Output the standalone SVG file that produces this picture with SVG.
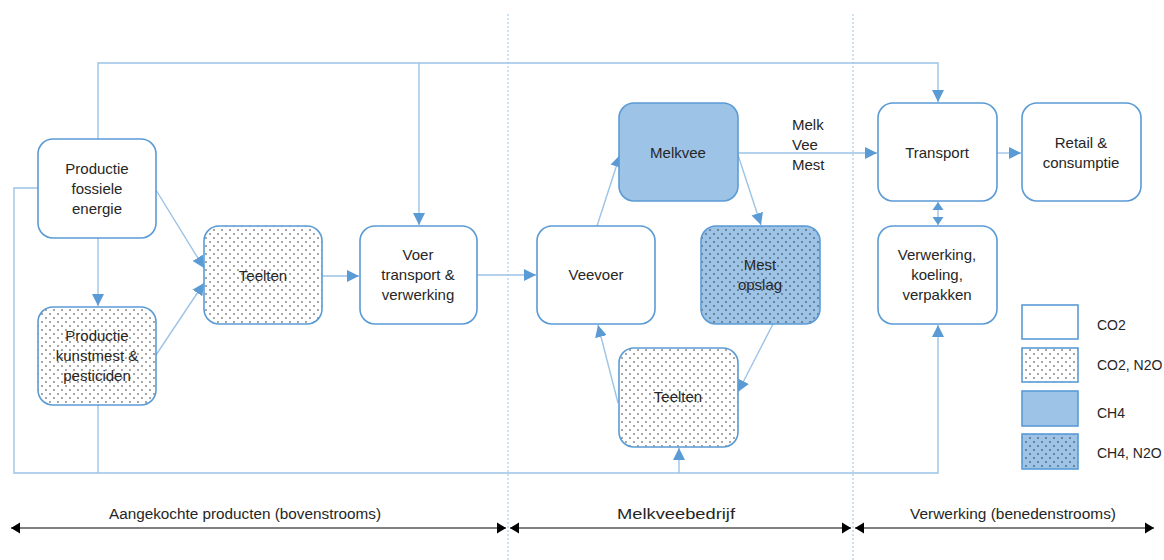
<svg xmlns="http://www.w3.org/2000/svg" width="1164" height="560" viewBox="0 0 1164 560">
<style>
.n{stroke:#5b9bd5;stroke-width:1.6}
.w{fill:#fff}
.b{fill:#9dc3e6}
.t{font-family:"Liberation Sans",Arial,sans-serif;font-size:15px;fill:#262626;text-anchor:middle}
.s{font-size:14px}
.l{text-anchor:start}
.c{fill:none;stroke:#9dc3e6;stroke-width:1.4}
.d{fill:none;stroke:#9dc3e6;stroke-width:1;stroke-dasharray:2 2}
.k{fill:none;stroke:#808080;stroke-width:2}
</style>
<defs>
<pattern id="dots" width="8" height="8" patternUnits="userSpaceOnUse">
<circle cx="2" cy="2" r="0.75" fill="#222"/>
<circle cx="6" cy="6" r="0.75" fill="#222"/>
</pattern>
<marker id="a" markerUnits="userSpaceOnUse" markerWidth="13" markerHeight="13" refX="12" refY="6.5" orient="auto-start-reverse" viewBox="0 0 13 13">
<path d="M0,0.5 L12,6.5 L0,12.5 z" fill="#5b9bd5"/>
</marker>
<marker id="a2" markerUnits="userSpaceOnUse" markerWidth="12" markerHeight="12" refX="8" refY="6" orient="auto-start-reverse" viewBox="0 0 12 12">
<path d="M0,0.5 L8,6 L0,11.5 z" fill="#5b9bd5"/>
</marker>
<marker id="k" markerUnits="userSpaceOnUse" markerWidth="10" markerHeight="12" refX="9" refY="6" orient="auto-start-reverse" viewBox="0 0 10 12">
<path d="M0,0.5 L9,6 L0,11.5 z" fill="#000"/>
</marker>
</defs>
<rect width="1164" height="560" fill="#fff"/>

<g id="dividers">
<line class="d" x1="508" y1="14" x2="508" y2="560"/>
<line class="d" x1="853" y1="14" x2="853" y2="560"/>
</g>

<g id="connectors">
<polyline class="c" points="98,139 98,63 938,63 938,102" marker-end="url(#a)"/>
<line class="c" x1="419" y1="63" x2="419" y2="225" marker-end="url(#a)"/>
<line class="c" x1="98" y1="238" x2="98" y2="306" marker-end="url(#a)"/>
<line class="c" x1="156" y1="190" x2="204" y2="268" marker-end="url(#a)"/>
<line class="c" x1="156" y1="355" x2="204" y2="283" marker-end="url(#a)"/>
<line class="c" x1="322" y1="276" x2="359" y2="276" marker-end="url(#a)"/>
<line class="c" x1="477" y1="275" x2="536" y2="275" marker-end="url(#a)"/>
<polyline class="c" points="38,188 14,188 14,473 938,473 938,325" marker-end="url(#a)"/>
<line class="c" x1="98" y1="405" x2="98" y2="473"/>
<line class="c" x1="679" y1="473" x2="679" y2="448" marker-end="url(#a)"/>
<line class="c" x1="597" y1="226" x2="620" y2="155" marker-end="url(#a)"/>
<line class="c" x1="738" y1="155" x2="761" y2="225" marker-end="url(#a)"/>
<line class="c" x1="773" y1="324" x2="738" y2="392" marker-end="url(#a)"/>
<line class="c" x1="618" y1="403" x2="598" y2="325" marker-end="url(#a)"/>
<line class="c" x1="738" y1="153" x2="877" y2="153" marker-end="url(#a)"/>
<line class="c" x1="997" y1="153" x2="1021" y2="153" marker-end="url(#a)"/>
<line class="c" x1="938" y1="202" x2="938" y2="225" marker-start="url(#a2)" marker-end="url(#a2)"/>
</g>

<g id="labels-flow">
<text class="t l" x="792" y="130">Melk</text>
<text class="t l" x="792" y="150">Vee</text>
<text class="t l" x="792" y="170">Mest</text>
</g>

<g id="fossiel">
<rect class="n w" x="38" y="139" width="118" height="99" rx="15"/>
<text class="t" x="97" y="174">Productie</text>
<text class="t" x="97" y="194">fossiele</text>
<text class="t" x="97" y="214">energie</text>
</g>
<g id="kunstmest">
<rect class="w" x="38" y="307" width="118" height="98" rx="15"/>
<rect class="n" fill="url(#dots)" x="38" y="307" width="118" height="98" rx="15"/>
<text class="t" x="97" y="341">Productie</text>
<text class="t" x="97" y="361">kunstmest &amp;</text>
<text class="t" x="97" y="381">pesticiden</text>
</g>
<g id="teelten1">
<rect class="w" x="204" y="226" width="118" height="98" rx="15"/>
<rect class="n" fill="url(#dots)" x="204" y="226" width="118" height="98" rx="15"/>
<text class="t" x="263" y="281">Teelten</text>
</g>
<g id="voer">
<rect class="n w" x="360" y="226" width="117" height="98" rx="15"/>
<text class="t" x="418" y="260">Voer</text>
<text class="t" x="418" y="280">transport &amp;</text>
<text class="t" x="418" y="300">verwerking</text>
</g>
<g id="veevoer">
<rect class="n w" x="537" y="226" width="118" height="98" rx="15"/>
<text class="t" x="596" y="280">Veevoer</text>
</g>
<g id="melkvee">
<rect class="n b" x="619" y="103" width="119" height="98" rx="15"/>
<text class="t" x="678" y="158">Melkvee</text>
</g>
<g id="mest">
<rect class="b" x="701" y="226" width="119" height="98" rx="15"/>
<rect class="n" fill="url(#dots)" x="701" y="226" width="119" height="98" rx="15"/>
<text class="t" x="760" y="270">Mest</text>
<text class="t" x="760" y="290">opslag</text>
</g>
<g id="teelten2">
<rect class="w" x="619" y="348" width="119" height="99" rx="15"/>
<rect class="n" fill="url(#dots)" x="619" y="348" width="119" height="99" rx="15"/>
<text class="t" x="678" y="402">Teelten</text>
</g>
<g id="transport">
<rect class="n w" x="878" y="103" width="119" height="98" rx="15"/>
<text class="t" x="937" y="158">Transport</text>
</g>
<g id="retail">
<rect class="n w" x="1022" y="103" width="119" height="98" rx="15"/>
<text class="t" x="1081" y="148">Retail &amp;</text>
<text class="t" x="1081" y="168">consumptie</text>
</g>
<g id="verwerking">
<rect class="n w" x="878" y="226" width="119" height="98" rx="15"/>
<text class="t" x="937" y="260">Verwerking,</text>
<text class="t" x="937" y="280">koeling,</text>
<text class="t" x="937" y="300">verpakken</text>
</g>

<g id="legend">
<rect class="n w" x="1022" y="305" width="56" height="34"/>
<text class="t s l" x="1097" y="330">CO2</text>
<rect class="w" x="1022" y="348" width="56" height="34"/>
<rect class="n" fill="url(#dots)" x="1022" y="348" width="56" height="34"/>
<text class="t s l" x="1097" y="370">CO2, N2O</text>
<rect class="n b" x="1022" y="391" width="56" height="35"/>
<text class="t s l" x="1097" y="418">CH4</text>
<rect class="b" x="1022" y="434" width="56" height="35"/>
<rect class="n" fill="url(#dots)" x="1022" y="434" width="56" height="35"/>
<text class="t s l" x="1097" y="458">CH4, N2O</text>
</g>

<g id="scale">
<line class="k" x1="11" y1="528" x2="506" y2="528" marker-start="url(#k)" marker-end="url(#k)"/>
<line class="k" x1="510" y1="528" x2="851" y2="528" marker-start="url(#k)" marker-end="url(#k)"/>
<line class="k" x1="855" y1="528" x2="1154" y2="528" marker-start="url(#k)" marker-end="url(#k)"/>
<text class="t s" x="245" y="519" textLength="272" lengthAdjust="spacingAndGlyphs">Aangekochte producten (bovenstrooms)</text>
<text class="t s" x="676" y="519" textLength="118" lengthAdjust="spacingAndGlyphs">Melkveebedrijf</text>
<text class="t s" x="1013" y="519" textLength="206" lengthAdjust="spacingAndGlyphs">Verwerking (benedenstrooms)</text>
</g>
</svg>
